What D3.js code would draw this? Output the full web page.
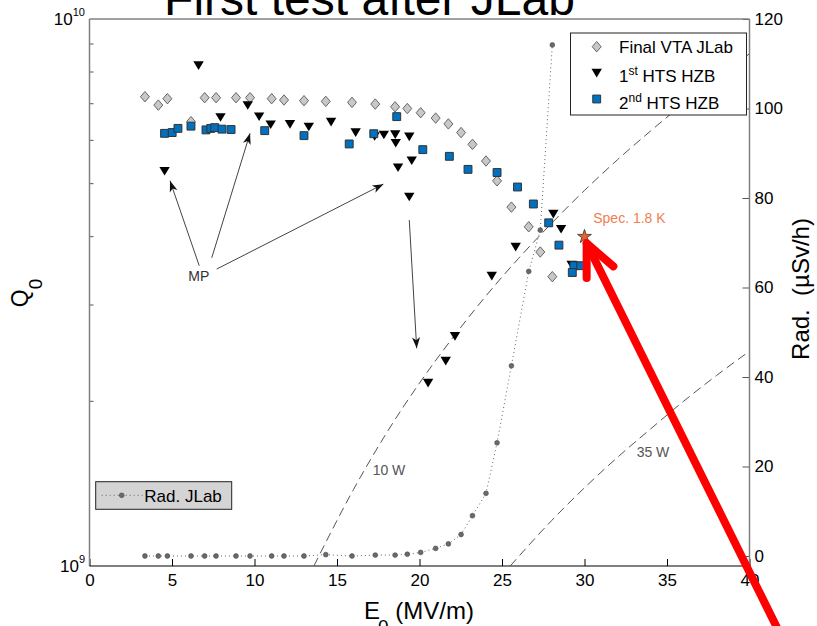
<!DOCTYPE html>
<html lang="en">
<head>
<meta charset="utf-8">
<title>First test after JLab</title>
<script src="https://d3js.org/d3.v7.min.js"></script>
<style>
  body { margin: 0; background: #fff; }
  text { font-family: Arial, "Liberation Sans", sans-serif; }
</style>
</head>
<body>
<script>
// values: E0 in MV/m, Q0, radiation in uSv/h

// Final VTA JLab (diamonds) + Rad. JLab measured at the same points
const vtaE = [3.36, 4.17, 4.72, 6.15, 6.98, 7.67, 8.88, 9.73, 11.04, 11.79, 13.00, 14.32, 15.91, 17.32,
              18.52, 19.26, 20.07, 20.98, 21.75, 22.52, 23.21, 24.03, 24.70, 25.57, 26.62, 27.32, 28.05];
const vtaQ = [7.21e9, 6.96e9, 7.15e9, 6.49e9, 7.18e9, 7.18e9, 7.18e9, 7.18e9, 7.15e9, 7.11e9, 7.09e9, 7.07e9, 7.04e9, 6.99e9,
              6.91e9, 6.86e9, 6.74e9, 6.59e9, 6.43e9, 6.20e9, 5.90e9, 5.50e9, 5.06e9, 4.53e9, 4.17e9, 3.75e9, 3.38e9];
const radJLab = [0, 0, 0, 0, 0, 0, 0, 0, 0, 0, 0, 0.3, 0, 0.2,
                 0.2, 0.4, 0.8, 1.7, 2.7, 4.8, 9.0, 14.0, 25.3, 42.5, 63.6, 72.8, 114.2];

// 1st HTS HZB (triangles)
const hts1E = [4.55, 6.61, 7.94, 9.59, 10.28, 10.98, 12.15, 13.29, 14.64, 16.13, 17.28, 17.84, 18.53,
               18.56, 19.38, 18.70, 19.53, 19.38, 20.52, 21.59, 22.15, 24.38, 25.83, 28.11, 28.58, 29.22];
const hts1Q = [5.27e9, 8.22e9, 6.61e9, 6.95e9, 6.63e9, 6.41e9, 6.42e9, 6.35e9, 6.48e9, 6.20e9, 6.10e9, 6.14e9, 6.15e9,
               5.93e9, 6.09e9, 5.35e9, 5.51e9, 4.73e9, 2.16e9, 2.37e9, 2.63e9, 3.39e9, 3.83e9, 4.40e9, 4.13e9, 3.55e9];

// 2nd HTS HZB (squares)
const hts2E = [4.55, 5.01, 5.36, 6.15, 7.06, 7.35, 7.59, 8.03, 8.58, 10.62, 13.0, 15.74, 17.23,
               18.62, 20.2, 21.81, 22.94, 24.70, 25.94, 26.90, 27.83, 28.45, 29.36, 29.77, 29.26];
const hts2Q = [6.18e9, 6.20e9, 6.31e9, 6.37e9, 6.27e9, 6.31e9, 6.33e9, 6.29e9, 6.28e9, 6.25e9, 6.12e9, 5.91e9, 6.17e9,
               6.63e9, 5.77e9, 5.61e9, 5.31e9, 5.24e9, 4.93e9, 4.59e9, 4.24e9, 3.86e9, 3.54e9, 3.54e9, 3.44e9];

// spec point
const specE = [30];
const specQ = [4.0e9];

// constant loss lines (dashed)
const w10E = [13.6, 16, 18, 20, 22, 24, 26, 28, 30, 32, 34, 36, 38, 40];
const w10Q = [1.0e9, 1.38e9, 1.75e9, 2.16e9, 2.61e9, 3.11e9, 3.65e9, 4.23e9, 4.86e9, 5.53e9, 6.24e9, 7.0e9, 7.8e9, 8.64e9];
const w35E = [25.5, 28, 30, 32, 34, 36, 38, 40];
const w35Q = [1.0e9, 1.21e9, 1.39e9, 1.58e9, 1.78e9, 2.0e9, 2.23e9, 2.47e9];

// ticks
const xTicks = [0, 5, 10, 15, 20, 25, 30, 35, 40];
const radTicks = [0, 20, 40, 60, 80, 100, 120];
const qMinor = [2e9, 3e9, 4e9, 5e9, 6e9, 7e9, 8e9, 9e9];

// annotations, in data units [E, Q]
const mpArrows = [
  [[6.65, 3.54e9], [4.88, 5.06e9]],
  [[7.41, 3.66e9], [9.73, 6.18e9]],
  [[7.71, 3.49e9], [17.81, 4.99e9]],
  [[19.38, 4.29e9], [19.83, 2.50e9]]
];
const redShaft = [[42.04, 7.32e8], [30.13, 3.89e9]];
const redHead = [[31.75, 3.53e9], [30.13, 3.89e9], [30.13, 3.36e9]];

const W = 817, H = 626;

const x = d3.scaleLinear().domain([0, 40]).range([89.5, 749.5]);
const y = d3.scaleLog().domain([1e9, 1e10]).range([566, 19]);
const yR = d3.scaleLinear().domain([0, 120]).range([556, 19]);

const svg = d3.select("body").append("svg")
    .attr("width", W)
    .attr("height", H);

const defs = svg.append("defs");
defs.append("clipPath").attr("id", "plot")
  .append("rect")
    .attr("x", x(0)).attr("y", y(1e10))
    .attr("width", x(40) - x(0)).attr("height", y(1e9) - y(1e10));

defs.append("marker")
    .attr("id", "head")
    .attr("viewBox", "-12 -6 13 12")
    .attr("refX", 0).attr("refY", 0)
    .attr("markerWidth", 13).attr("markerHeight", 12)
    .attr("markerUnits", "userSpaceOnUse")
    .attr("orient", "auto")
  .append("path")
    .attr("d", "M0,0 L-11,-4 L-8,0 L-11,4 Z")
    .attr("fill", "#111");

// title
svg.append("text")
    .attr("x", 369.5).attr("y", 15)
    .attr("text-anchor", "middle")
    .attr("font-size", 48)
    .text("First test after JLab");

// bottom axis
const bottomAxis = d3.axisBottom(x)
    .tickValues(xTicks)
    .tickSizeInner(-7)
    .tickSizeOuter(0)
    .tickPadding(8);

const gx = svg.append("g")
    .attr("transform", "translate(0," + y(1e9) + ")")
    .call(bottomAxis);
gx.select(".domain").remove();
gx.selectAll("line").attr("stroke", "#000");
gx.selectAll("text").attr("font-size", 17).attr("fill", "#000").style("font-family", "Arial, 'Liberation Sans', sans-serif");

// right axis (radiation)
const rightAxis = d3.axisRight(yR)
    .tickValues(radTicks)
    .tickSizeInner(-7)
    .tickSizeOuter(0)
    .tickPadding(5);

const gr = svg.append("g")
    .attr("transform", "translate(" + x(40) + ",0)")
    .call(rightAxis);
gr.select(".domain").remove();
gr.selectAll("line").attr("stroke", "#555");
gr.selectAll("text").attr("font-size", 17).attr("fill", "#000").style("font-family", "Arial, 'Liberation Sans', sans-serif");

// left log axis: minor ticks + decade labels
svg.append("g").selectAll("line")
  .data(qMinor)
  .enter()
  .append("line")
    .attr("x1", x(0)).attr("x2", x(0) + 4)
    .attr("y1", d => y(d)).attr("y2", d => y(d))
    .attr("stroke", "#555");

const decades = [[1e9, "9"], [1e10, "10"]];
decades.forEach(([v, e]) => {
  const t = svg.append("text")
      .attr("x", x(0) - 4.5)
      .attr("y", y(v) + 6)
      .attr("text-anchor", "end")
      .attr("font-size", 17);
  t.append("tspan").text("10");
  t.append("tspan").attr("dy", -9).attr("font-size", 11).text(e);
});

// frame
svg.append("line").attr("x1", x(0)).attr("x2", x(40)).attr("y1", y(1e10)).attr("y2", y(1e10))
    .attr("stroke", "#808080").attr("stroke-width", 1.5);
svg.append("line").attr("x1", x(0)).attr("x2", x(0)).attr("y1", y(1e10)).attr("y2", y(1e9))
    .attr("stroke", "#808080").attr("stroke-width", 1.5);
svg.append("line").attr("x1", x(40)).attr("x2", x(40)).attr("y1", y(1e10)).attr("y2", y(1e9))
    .attr("stroke", "#808080").attr("stroke-width", 1.5);
svg.append("line").attr("x1", x(0)).attr("x2", x(40)).attr("y1", y(1e9)).attr("y2", y(1e9))
    .attr("stroke", "#000").attr("stroke-width", 1.2);

// axis titles
const xt = svg.append("text")
    .attr("x", 419).attr("y", 619)
    .attr("text-anchor", "middle")
    .attr("font-size", 24);
xt.append("tspan").text("E");
xt.append("tspan").attr("dy", 14).attr("dx", -2).attr("font-size", 19).text("0");
xt.append("tspan").attr("dy", -14).text(" (MV/m)");

const yt = svg.append("text")
    .attr("transform", "translate(28,293) rotate(-90)")
    .attr("text-anchor", "middle")
    .attr("font-size", 23);
yt.append("tspan").text("Q");
yt.append("tspan").attr("dy", 14).attr("font-size", 19).text("0");

svg.append("text")
    .attr("transform", "translate(809,289) rotate(-90)")
    .attr("text-anchor", "middle")
    .attr("font-size", 24)
    .text("Rad.\u00a0 (\u00b5Sv/h)");

const plot = svg.append("g").attr("clip-path", "url(#plot)");

// constant power lines
const powerLine = d3.line()
    .x(d => x(d[0]))
    .y(d => y(d[1]))
    .curve(d3.curveMonotoneX);

[[w10E, w10Q], [w35E, w35Q]].forEach(([es, qs]) => {
  plot.append("path")
      .attr("d", powerLine(es.map((e, i) => [e, qs[i]])))
      .attr("fill", "none")
      .attr("stroke", "#555")
      .attr("stroke-width", 1)
      .attr("stroke-dasharray", "9,5");
});

svg.append("text").attr("x", x(17.16)).attr("y", y(1.467e9))
    .attr("font-size", 14).attr("fill", "#555").text("10 W");
svg.append("text").attr("x", x(33.16)).attr("y", y(1.584e9))
    .attr("font-size", 14).attr("fill", "#555").text("35 W");

// radiation JLab
const radData = vtaE.map((e, i) => [e, radJLab[i]]);
plot.append("path")
    .attr("d", d3.line().x(d => x(d[0])).y(d => yR(d[1]))(radData))
    .attr("fill", "none")
    .attr("stroke", "#666")
    .attr("stroke-width", 1)
    .attr("stroke-dasharray", "1,3");
plot.selectAll(".rad")
  .data(radData)
  .enter()
  .append("circle")
    .attr("class", "rad")
    .attr("cx", d => x(d[0]))
    .attr("cy", d => yR(d[1]))
    .attr("r", 2.4)
    .attr("fill", "#6a6a6a")
    .attr("stroke", "#444")
    .attr("stroke-width", 0.6);

// marker shapes
const diamondSym = { draw(c) { c.moveTo(0, -5.2); c.lineTo(4.5, 0); c.lineTo(0, 5.2); c.lineTo(-4.5, 0); c.closePath(); } };
const triDownSym = { draw(c) { c.moveTo(-5.2, -4.2); c.lineTo(5.2, -4.2); c.lineTo(0, 4.4); c.closePath(); } };

const vtaData = vtaE.map((e, i) => [e, vtaQ[i]]);
svg.selectAll(".vta")
  .data(vtaData)
  .enter()
  .append("path")
    .attr("class", "vta")
    .attr("d", d3.symbol().type(diamondSym)())
    .attr("transform", d => "translate(" + x(d[0]) + "," + y(d[1]) + ")")
    .attr("fill", "#c8c8c8")
    .attr("stroke", "#666")
    .attr("stroke-width", 1);

const hts1Data = hts1E.map((e, i) => [e, hts1Q[i]]);
svg.selectAll(".hts1")
  .data(hts1Data)
  .enter()
  .append("path")
    .attr("class", "hts1")
    .attr("d", d3.symbol().type(triDownSym)())
    .attr("transform", d => "translate(" + x(d[0]) + "," + y(d[1]) + ")")
    .attr("fill", "#000");

const hts2Data = hts2E.map((e, i) => [e, hts2Q[i]]);
svg.selectAll(".hts2")
  .data(hts2Data)
  .enter()
  .append("path")
    .attr("class", "hts2")
    .attr("d", d3.symbol().type(d3.symbolSquare).size(62)())
    .attr("transform", d => "translate(" + x(d[0]) + "," + y(d[1]) + ")")
    .attr("fill", "#0070c0")
    .attr("stroke", "#333")
    .attr("stroke-width", 1);

// spec point
svg.selectAll(".spec")
  .data(specE.map((e, i) => [e, specQ[i]]))
  .enter()
  .append("path")
    .attr("class", "spec")
    .attr("d", d3.symbol().type(d3.symbolStar).size(60)())
    .attr("transform", d => "translate(" + x(d[0]) + "," + y(d[1]) + ")")
    .attr("fill", "#e8602c")
    .attr("stroke", "#333")
    .attr("stroke-width", 0.8);
svg.append("text").attr("x", x(30.53)).attr("y", y(4.23e9))
    .attr("font-size", 14).attr("fill", "#f08050").text("Spec. 1.8 K");

// MP annotation
svg.append("text").attr("x", x(5.99)).attr("y", y(3.32e9))
    .attr("font-size", 14).attr("fill", "#333").text("MP");
mpArrows.forEach(([a, b]) => {
  svg.append("line")
      .attr("x1", x(a[0])).attr("y1", y(a[1]))
      .attr("x2", x(b[0])).attr("y2", y(b[1]))
      .attr("stroke", "#444")
      .attr("stroke-width", 1)
      .attr("marker-end", "url(#head)");
});

// legend (top right)
const lg = svg.append("g");
lg.append("rect")
    .attr("x", 570.5).attr("y", 33).attr("width", 176).attr("height", 82)
    .attr("fill", "#fff").attr("stroke", "#222").attr("stroke-width", 1);
lg.append("path").attr("d", d3.symbol().type(diamondSym)())
    .attr("transform", "translate(596.7,46.7)")
    .attr("fill", "#c8c8c8").attr("stroke", "#666");
lg.append("path").attr("d", d3.symbol().type(triDownSym)())
    .attr("transform", "translate(596.7,73)")
    .attr("fill", "#000");
lg.append("path").attr("d", d3.symbol().type(d3.symbolSquare).size(62)())
    .attr("transform", "translate(596.7,99)")
    .attr("fill", "#0070c0").attr("stroke", "#333");
lg.append("text").attr("x", 619).attr("y", 53).attr("font-size", 17).text("Final VTA JLab");
const l2 = lg.append("text").attr("x", 619).attr("y", 81.5).attr("font-size", 17);
l2.append("tspan").text("1");
l2.append("tspan").attr("dy", -7).attr("font-size", 12).text("st");
l2.append("tspan").attr("dy", 7).text(" HTS HZB");
const l3 = lg.append("text").attr("x", 619).attr("y", 108.5).attr("font-size", 17);
l3.append("tspan").text("2");
l3.append("tspan").attr("dy", -7).attr("font-size", 12).text("nd");
l3.append("tspan").attr("dy", 7).text(" HTS HZB");

// legend (bottom left)
const lr = svg.append("g");
lr.append("rect")
    .attr("x", 95.7).attr("y", 481.7).attr("width", 136).attr("height", 27.6)
    .attr("fill", "#d4d4d4").attr("stroke", "#222").attr("stroke-width", 1);
lr.append("line").attr("x1", 101.7).attr("x2", 143.3).attr("y1", 495.3).attr("y2", 495.3)
    .attr("stroke", "#666").attr("stroke-dasharray", "1,3");
lr.append("circle").attr("cx", 121.7).attr("cy", 495.3).attr("r", 2.4)
    .attr("fill", "#6a6a6a").attr("stroke", "#444").attr("stroke-width", 0.6);
lr.append("text").attr("x", 144.3).attr("y", 502).attr("font-size", 17).text("Rad. JLab");

// red arrow pointing at the spec
svg.append("path")
    .attr("d", d3.line().x(d => x(d[0])).y(d => y(d[1]))(redShaft))
    .attr("fill", "none")
    .attr("stroke", "#ff0000")
    .attr("stroke-width", 8)
    .attr("stroke-linecap", "round");
svg.append("path")
    .attr("d", d3.line().x(d => x(d[0])).y(d => y(d[1]))(redHead))
    .attr("fill", "none")
    .attr("stroke", "#ff0000")
    .attr("stroke-width", 8)
    .attr("stroke-linecap", "round")
    .attr("stroke-linejoin", "round");
</script>
</body>
</html>
